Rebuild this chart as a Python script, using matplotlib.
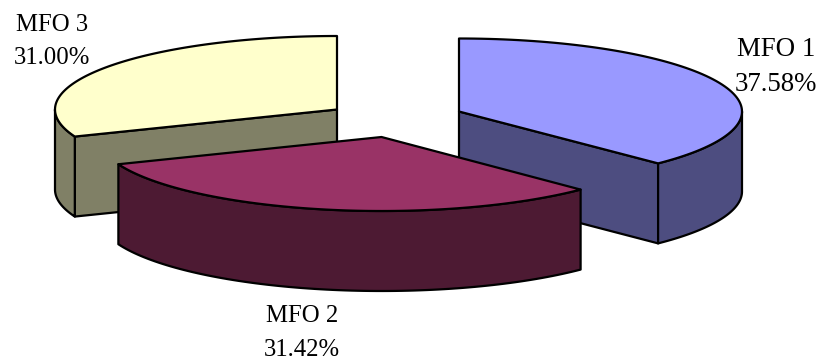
import numpy as np
import matplotlib
matplotlib.use("Agg")
import matplotlib.pyplot as plt
from matplotlib.patches import Polygon

# Share of each MFO, in percent
names = ["MFO 1", "MFO 2", "MFO 3"]
shares = [37.58, 31.42, 31.00]

# Appearance of the exploded disc
top_colors = ["#9999FF", "#993366", "#FFFFCC"]
side_colors = ["#4D4D80", "#4D1A33", "#808066"]
apexes = [(459, 111.5), (381.5, 137), (337, 109.5)]
radii_x = [283, 283, 282]
radii_y = [73, 74, 73.5]
depth = 80
label_centers = [(776, 67), (302, 333), (52, 41.5)]
label_sizes = [19.4, 17.8, 17.8]
label_spacing = [1.55, 1.7, 1.7]
draw_order = [2, 0, 1]

fig = plt.figure(figsize=(8.24, 3.6), dpi=100)
ax = fig.add_axes([0, 0, 1, 1])
ax.set_xlim(0, 824)
ax.set_ylim(360, 0)
ax.axis("off")

EDGE = dict(edgecolor="black", linewidth=1.6, joinstyle="round")


def rim(cx, cy, rx, ry, start, end, n=90):
    """Rim points, with angles clockwise from twelve o'clock in degrees."""
    t = np.radians(np.linspace(start, end, n))
    return np.column_stack([cx + rx * np.sin(t), cy - ry * np.cos(t)])


edges = np.concatenate([[0], np.cumsum(shares) / np.sum(shares) * 360])

for i in draw_order:
    a0, a1 = edges[i], edges[i + 1]
    cx, cy = apexes[i]
    rx, ry = radii_x[i], radii_y[i]
    drop = np.array([0, depth])

    # Cut faces that turn towards the viewer
    for angle, visible in ((a1, 0 < a1 < 180), (a0, 180 < a0 < 360)):
        if visible:
            outer = rim(cx, cy, rx, ry, angle, angle, 1)[0]
            apex = np.array([cx, cy])
            ax.add_patch(Polygon([apex, outer, outer + drop, apex + drop],
                                 facecolor=side_colors[i], **EDGE))

    # Curved wall on the front half of the rim
    lo, hi = max(a0, 90), min(a1, 270)
    if lo < hi:
        arc = rim(cx, cy, rx, ry, lo, hi)
        ax.add_patch(Polygon(np.vstack([arc, (arc + drop)[::-1]]),
                             facecolor=side_colors[i], **EDGE))

    # Top face
    arc = rim(cx, cy, rx, ry, a0, a1)
    ax.add_patch(Polygon(np.vstack([[cx, cy], arc]),
                         facecolor=top_colors[i], **EDGE))

for name, share, (x, y), size, spacing in zip(names, shares, label_centers,
                                              label_sizes, label_spacing):
    ax.text(x, y, f"{name}\n{share:.2f}%", ha="center", va="center",
            family="Liberation Serif", fontsize=size, color="black",
            linespacing=spacing, zorder=5)

fig.savefig("out.png", dpi=100)
